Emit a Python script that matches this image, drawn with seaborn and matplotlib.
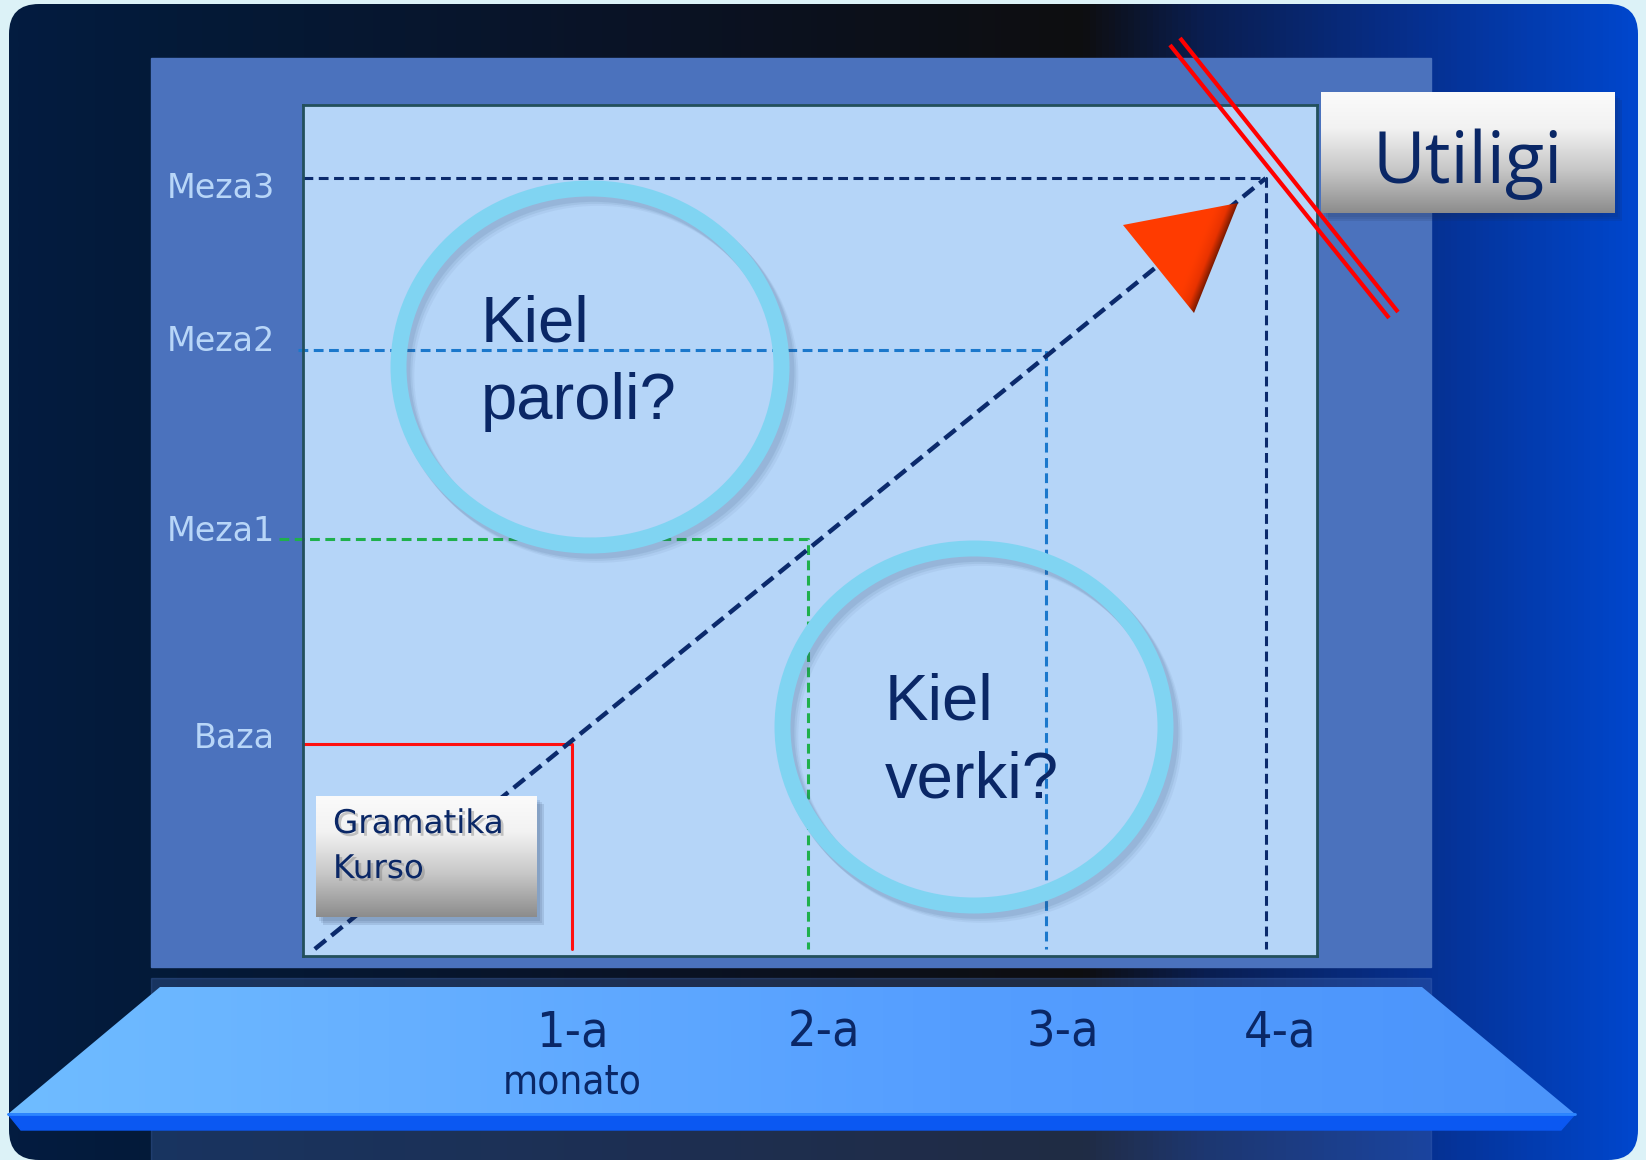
import numpy as np
import matplotlib
matplotlib.use("Agg")
import matplotlib.pyplot as plt
import matplotlib.patheffects as pe
from matplotlib.patches import Polygon, Rectangle, FancyBboxPatch, Ellipse
from matplotlib.colors import LinearSegmentedColormap
import seaborn as sns

# ---- data ----
month_ticks = [1.0, 2.07, 3.08, 4.0]
month_labels = ["1-a", "2-a", "3-a", "4-a"]
goal_names = ["Baza", "Meza1", "Meza2", "Meza3"]
goal_levels = [1.0, 2.0, 2.92, 3.76]
goal_label_pos = [1.044, 2.054, 2.98, 3.727]
goal_months = [1.0, 2.0, 3.01, 3.94]
goal_starts = [-0.14, -0.24, -0.16, -0.14]   # where each level line begins (left)
goal_colors = ["#ff1010", "#1fb04c", "#1b78cc", "#0b2a6c"]
goal_dashed = [False, True, True, True]
path_months = [-0.09, 3.94]
path_levels = [0.0, 3.76]

W, H = 1646, 1160
NAVY = "#0a2766"

sns.set_theme(style="white")
plt.rcParams["font.family"] = ["DejaVu Sans"]


def grad_fill(ax, patch, stops, extent, horizontal=True, z=1):
    cmap = LinearSegmentedColormap.from_list("g", stops)
    arr = np.linspace(0, 1, 256)
    arr = arr[None, :] if horizontal else arr[:, None]
    patch.set_facecolor("none")
    patch.set_edgecolor("none")
    patch.set_zorder(z)
    ax.add_patch(patch)
    im = ax.imshow(arr, cmap=cmap, extent=extent, aspect="auto", zorder=z,
                   interpolation="bilinear")
    im.set_clip_path(patch)
    return im


fig = plt.figure(figsize=(W / 100, H / 100), dpi=100, facecolor="#dcf2f7")

# ---- background decoration (pixel coordinates) ----
bg = fig.add_axes([0, 0, 1, 1], zorder=0)
outer = FancyBboxPatch((9, 4), 1629, 1156, boxstyle="round,pad=0,rounding_size=30")
grad_fill(bg, outer,
          [(0, "#031c40"), (0.1, "#041a38"), (0.38, "#0a1326"), (0.66, "#0e0e10"),
           (0.735, "#0a1e50"), (0.87, "#063090"), (1, "#0046cc")],
          (9, 1638, 1160, 4), z=1)
bg.add_patch(Rectangle((151, 58), 1280, 909, color="#4b72bd", zorder=2))
bg.add_patch(Rectangle((151, 978), 1280, 190, color="#4b72bd", alpha=0.3, zorder=2))
trap = Polygon([(160, 987), (1422, 987), (1575, 1114), (8, 1114)], closed=True)
grad_fill(bg, trap, [(0, "#6fbcff"), (0.2, "#68b2ff"), (0.6, "#559eff"), (1, "#4b94fb")],
          (8, 1575, 1114, 987), z=3)
bg.add_patch(Polygon([(8, 1114), (1575, 1114), (1561, 1130), (21, 1130)],
                     closed=True, color="#0b58f2", zorder=3))
bg.plot([8, 1575], [1114, 1114], color="#2d86ff", lw=2, zorder=4)
bg.set_xlim(0, W)
bg.set_ylim(H, 0)
bg.axis("off")

# ---- the chart itself ----
ax = fig.add_axes([303 / W, (H - 956) / H, 1014 / W, 851 / H], zorder=1)
ax.set_facecolor("#b5d5f8")
for s in ax.spines.values():
    s.set_color("#23505c")
    s.set_linewidth(2)

for name, lvl, m, x0, c, dashed in zip(goal_names, goal_levels, goal_months,
                                       goal_starts, goal_colors, goal_dashed):
    ls = (0, (3.2, 1.8)) if dashed else "-"
    sns.lineplot(x=[x0, m, m], y=[lvl, lvl, 0.0], sort=False, estimator=None,
                 color=c, linewidth=2.2, linestyle=ls, clip_on=False, ax=ax)

sns.lineplot(x=path_months, y=path_levels, sort=False, estimator=None,
             color="#0b2a6c", linewidth=3.2, linestyle=(0, (3.2, 1.6)), ax=ax)

ax.set_xlim(-0.14, 4.157)
ax.set_ylim(-0.034, 4.117)
ax.set_xlabel("")
ax.set_ylabel("")
ax.set_xticks(month_ticks, month_labels)
ax.set_yticks(goal_label_pos, goal_names)
ax.tick_params(axis="x", length=0, pad=38, labelsize=36, labelcolor=NAVY)
ax.tick_params(axis="y", length=0, pad=20, labelsize=24, labelcolor="#b8d6f8")
for t in ax.get_xticklabels():
    t.set_fontstretch("condensed")
ax.annotate("monato", xy=(month_ticks[0], 0), xycoords=("data", "axes fraction"),
            xytext=(0, -127), textcoords="offset pixels", ha="center", va="center",
            fontsize=29, color=NAVY, fontstretch="condensed", annotation_clip=False)

# ---- overlay decoration ----
ov = fig.add_axes([0, 0, 1, 1], zorder=2)
ov.patch.set_visible(False)

for (cx, cy) in [(590, 367), (974, 727)]:
    for k, a in enumerate([0.10, 0.08, 0.06]):
        ov.add_patch(Ellipse((cx + 4 + 2 * k, cy + 5 + 2 * k), 384, 357, fill=False,
                             lw=12, ec="#2d4a70", alpha=a, zorder=2))
    ov.add_patch(Ellipse((cx, cy), 383, 357, fill=False, lw=11.5,
                         ec="#80d4f2", zorder=3))

txt_kw = dict(fontsize=47, color=NAVY, family=["Liberation Sans", "DejaVu Sans"],
              va="baseline", ha="left", zorder=4)
ov.text(481, 341, "Kiel", **txt_kw)
ov.text(481, 419, "paroli?", **txt_kw)
ov.text(885, 719, "Kiel", **txt_kw)
ov.text(885, 797, "verki?", **txt_kw)

box_stops = [(0, "#fbfbfb"), (0.3, "#f2f2f2"), (0.65, "#c6c6c6"), (1, "#8c8c8c")]
for (x0, y0, w, h) in [(316, 796, 221, 121), (1321, 92, 294, 121)]:
    for k, a in enumerate([0.10, 0.10, 0.12]):
        ov.add_patch(Rectangle((x0 + 3 + 2 * k, y0 + 4 + 2 * k), w, h,
                               color="#1a2a50", alpha=a, zorder=4, lw=0))
    grad_fill(ov, Rectangle((x0, y0), w, h), box_stops,
              (x0, x0 + w, y0 + h, y0), horizontal=False, z=5)

shadow = [pe.SimplePatchShadow(offset=(2, -2), shadow_rgbFace="#7a7a7a", alpha=0.4),
          pe.Normal()]
ov.text(333, 833, "Gramatika", fontsize=23.5, color=NAVY, va="baseline", zorder=6,
        path_effects=shadow)
ov.text(333, 878, "Kurso", fontsize=23.5, color=NAVY, va="baseline", zorder=6,
        path_effects=shadow)
ov.text(1468, 183, "Utiligi", fontsize=52, color=NAVY, ha="center", va="baseline",
        family=["Open Sans", "DejaVu Sans"], zorder=6)

# arrow head with darker right edge
tri = np.array([(1123, 225), (1238, 203), (1194, 313)], dtype=float)
xs = np.linspace(1120, 1240, 240)
ys = np.linspace(200, 316, 232)
gx, gy = np.meshgrid(xs, ys)
p1, p2 = tri[1], tri[2]
nvec = np.array([p2[1] - p1[1], -(p2[0] - p1[0])])
nvec /= np.hypot(*nvec)
dist = np.abs((gx - p1[0]) * nvec[0] + (gy - p1[1]) * nvec[1])
shade = np.clip(1 - dist / 22, 0, 1) ** 1.5
tri_patch = Polygon(tri, closed=True, fc="none", ec="none", zorder=7)
ov.add_patch(tri_patch)
tcmap = LinearSegmentedColormap.from_list("t", ["#ff3c00", "#e83300", "#7a1a00"])
im = ov.imshow(shade, cmap=tcmap, extent=(1120, 1240, 316, 200), aspect="auto",
               zorder=7, interpolation="bilinear")
im.set_clip_path(tri_patch)

# crossed-out double red line
ov.plot([1170, 1389], [45, 318], color="#ff0000", lw=3, solid_capstyle="butt", zorder=8)
ov.plot([1180, 1398], [38, 312], color="#ff0000", lw=3, solid_capstyle="butt", zorder=8)

ov.set_xlim(0, W)
ov.set_ylim(H, 0)
ov.axis("off")

fig.savefig("out.png", dpi=100, facecolor=fig.get_facecolor())
